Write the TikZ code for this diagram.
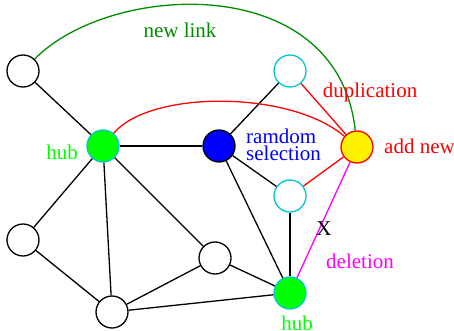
\documentclass[tikz,border=0pt]{standalone}
\usepackage{fontspec}
\setmainfont{Liberation Serif}
\definecolor{cyanb}{RGB}{0,200,210}
\definecolor{greenf}{RGB}{0,255,0}
\definecolor{linkg}{RGB}{0,140,0}
\definecolor{magv}{RGB}{255,0,255}
\definecolor{redv}{RGB}{255,0,0}
\begin{document}
\begin{tikzpicture}[x=1pt,y=-1pt,
  vtx/.style={circle,draw=black,fill=white,line width=1.3pt,minimum size=32pt,inner sep=0pt},
  hubv/.style={vtx,draw=cyanb,fill=greenf},
  cyv/.style={vtx,draw=cyanb},
  lab/.style={font=\fontsize{21}{16.5}\selectfont,inner sep=0pt},
  edge/.style={line width=1.3pt,black}]
\useasboundingbox (0,0) rectangle (454,331);
\node[vtx] (a) at (23,71) {};
\node[hubv] (h1) at (103,146) {};
\node[vtx,fill=blue] (b) at (219,146) {};
\node[cyv] (ct) at (290,71) {};
\node[cyv] (cm) at (290,196) {};
\node[vtx,draw=redv,fill=yellow] (y) at (357,147) {};
\node[vtx] (lb) at (23,240) {};
\node[vtx] (bo) at (112,312) {};
\node[vtx] (mr) at (215,258) {};
\node[hubv] (h2) at (290,293) {};
\draw[edge] (a) -- (h1);
\draw[edge] (h1) -- (b);
\draw[edge] (h1) -- (lb);
\draw[edge] (h1) -- (bo);
\draw[edge] (h1) -- (mr);
\draw[edge] (lb) -- (bo);
\draw[edge] (bo) -- (mr);
\draw[edge] (bo) -- (h2);
\draw[edge] (mr) -- (h2);
\draw[edge] (b) -- (ct);
\draw[edge] (b) -- (cm);
\draw[edge] (b) -- (h2);
\draw[edge] (cm) -- (h2);
\draw[line width=1.3pt,redv] (ct) -- (y);
\draw[line width=1.3pt,redv] (cm) -- (y);
\draw[line width=1.3pt,redv] (h1) .. controls (150,90) and (290,90) .. (y);
\draw[line width=1.3pt,linkg] (a) .. controls (110,-18) and (338,-30) .. (y);
\draw[line width=1.3pt,magv] (y) -- (h2);
\node[lab,text=linkg] (tnl) at (180,30) {new link};
\node[lab,text=redv] (tdup) at (370,92) {duplication};
\node[lab,text=greenf,anchor=east] (th1) at (78,152) {hub};
\node[lab,text=blue,align=left,anchor=west] (trs) at (246,145) {ramdom\\selection};
\node[lab,text=redv,anchor=west] (tan) at (384,146) {add new};
\node[lab] (tx) at (324,229) {X};
\node[lab,text=magv] (tdel) at (360,261) {deletion};
\node[lab,text=greenf] (th2) at (297,323) {hub};
\end{tikzpicture}
\end{document}
